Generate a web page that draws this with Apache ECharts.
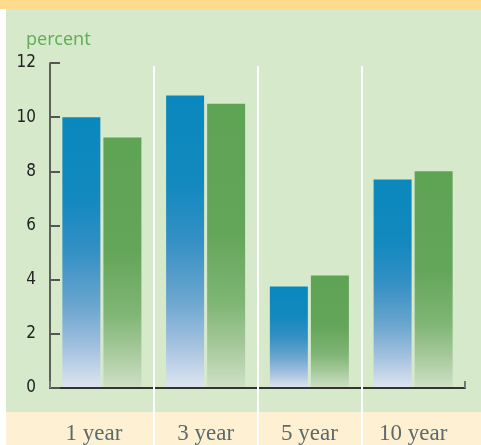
<!DOCTYPE html>
<html>
<head>
<meta charset="utf-8">
<script src="https://cdn.jsdelivr.net/npm/echarts@6/dist/echarts.min.js"></script>
<style>
html,body{margin:0;padding:0;background:#fff;}
#c{width:481px;height:445px;}
</style>
</head>
<body>
<div id="c"></div>
<script>
var categories = ['1 year', '3 year', '5 year', '10 year'];
var blueValues = [10.0, 10.8, 3.75, 7.7];
var greenValues = [9.25, 10.5, 4.15, 8.0];
var yTicks = [0, 2, 4, 6, 8, 10, 12];

var blueGrad = {type:'linear', x:0, y:0, x2:0, y2:1, colorStops:[
  {offset:0, color:'#0A88BE'},
  {offset:0.3, color:'#1289BF'},
  {offset:0.5, color:'#3590C4'},
  {offset:0.7, color:'#6BA6CF'},
  {offset:0.85, color:'#A3C1DF'},
  {offset:1, color:'#DEE5F0'}
]};
var greenGrad = {type:'linear', x:0, y:0, x2:0, y2:1, colorStops:[
  {offset:0, color:'#5FA355'},
  {offset:0.45, color:'#63A559'},
  {offset:0.7, color:'#7FB575'},
  {offset:0.85, color:'#A5C99A'},
  {offset:1, color:'#CFE0C6'}
]};

var chart = echarts.init(document.getElementById('c'), null, {renderer:'canvas'});
chart.setOption({
  backgroundColor: '#ffffff',
  animation: false,
  graphic: [
    {type:'rect', shape:{x:0, y:0, width:481, height:9}, style:{fill:'#FFDB8E'}, z:-10, silent:true},
    {type:'rect', shape:{x:6, y:9, width:475, height:403}, style:{fill:'#D6EACB'}, z:-10, silent:true},
    {type:'rect', shape:{x:6, y:412, width:475, height:33}, style:{fill:'#FEF0D3'}, z:-10, silent:true}
  ],
  title: {
    text: 'percent', left: 21, top: 26,
    textStyle: {color:'#63AE5A', fontSize:18, fontWeight:'normal', fontFamily:'Noto Sans'}
  },
  grid: [
    {left:50, right:16, top:63, bottom:56},
    {left:50, right:16, top:66, bottom:0}
  ],
  xAxis: [
    {
      type:'category', gridIndex:0, data:categories, z:3,
      axisLine:{show:true, lineStyle:{color:'#333', width:2}},
      axisTick:{show:true, inside:true, length:7, interval:function(i){return i===3;}, lineStyle:{color:'#777', width:2}},
      axisLabel:{
        interval:0, hideOverlap:false,
        margin:34, color:'#5B6B6B', fontSize:23, fontFamily:'Liberation Serif',
        formatter:function(v, i){ return i === 0 ? '{a|' + v + '}' : v; },
        rich:{a:{color:'#5B6B6B', fontSize:23, fontFamily:'Liberation Serif', padding:[0,16,0,0]}}
      },
      splitLine:{show:false}
    },
    {
      type:'value', gridIndex:1, min:0, max:4, interval:1, z:5,
      axisLine:{show:false}, axisTick:{show:false}, axisLabel:{show:false},
      splitLine:{show:true, showMinLine:false, showMaxLine:false, lineStyle:{color:'#ffffff', width:2}}
    }
  ],
  yAxis: [
    {
      type:'value', gridIndex:0, min:yTicks[0], max:yTicks[yTicks.length-1], interval:2, z:3,
      axisLine:{show:true, lineStyle:{color:'#333', width:1.5}},
      axisTick:{show:true, inside:true, length:10, lineStyle:{color:'#555', width:2}},
      axisLabel:{margin:14, color:'#222', fontSize:17, fontFamily:"'Liberation Sans Narrow', 'DejaVu Sans Condensed', 'Roboto Condensed', 'Liberation Sans', sans-serif"},
      splitLine:{show:false}
    },
    {
      type:'value', gridIndex:1, min:0, max:1, show:false,
      splitLine:{show:false}
    }
  ],
  series: [
    {type:'bar', name:'blue', data:blueValues, barWidth:38, barGap:'8%', itemStyle:{color:blueGrad}},
    {type:'bar', name:'green', data:greenValues, barWidth:38, barGap:'8%', itemStyle:{color:greenGrad}}
  ]
});
</script>
</body>
</html>
